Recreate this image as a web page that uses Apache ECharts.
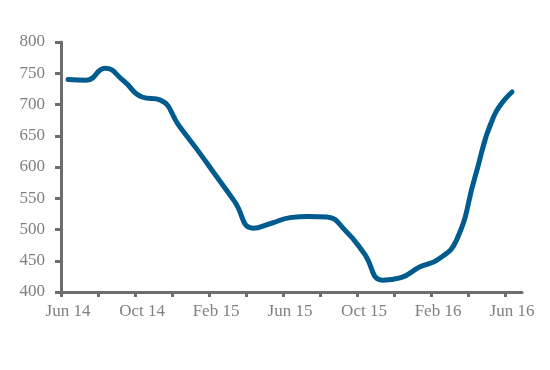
<!DOCTYPE html>
<html>
<head>
<meta charset="utf-8">
<script src="https://cdn.jsdelivr.net/npm/echarts@6/dist/echarts.min.js"></script>
<style>html,body{margin:0;padding:0;background:#fff;}#c{width:550px;height:370px;}</style>
</head>
<body>
<div id="c"></div>
<script>
var months = ["Jun 14","Jul 14","Aug 14","Sep 14","Oct 14","Nov 14","Dec 14","Jan 15","Feb 15","Mar 15","Apr 15","May 15","Jun 15","Jul 15","Aug 15","Sep 15","Oct 15","Nov 15","Dec 15","Jan 16","Feb 16","Mar 16","Apr 16","May 16","Jun 16"];
var values = [740,739,758,738,712,707,666,627,586,545,502,510,519,521,520,498,462,419,423,440,452,483,584,680,720];
var tickLabels = ["Jun 14","Oct 14","Feb 15","Jun 15","Oct 15","Feb 16","Jun 16"];
var yTicks = [400,450,500,550,600,650,700,750,800];

var data = values.map(function(v,i){return [i,v];});
var labelPos = tickLabels.map(function(l){return months.indexOf(l);});
var tickPos = [];
for (var j=0;j<13;j++) tickPos.push(-0.38 + 2*j);

var axisGrey = '#6d6d6d';
var textGrey = '#808080';
var chart = echarts.init(document.getElementById('c'));
chart.setOption({
  animation:false,
  grid:{left:61,right:28,top:42,bottom:78,containLabel:false},
  xAxis:{
    type:'value', min:-0.38, max:24.54,
    axisLine:{show:true,onZero:false,lineStyle:{color:axisGrey,width:3}},
    axisTick:{show:true,customValues:tickPos,length:5,lineStyle:{color:axisGrey,width:3}},
    axisLabel:{customValues:labelPos,margin:11,color:textGrey,fontFamily:'Liberation Serif',fontSize:17,
      formatter:function(v){return months[Math.round(v)];}},
    splitLine:{show:false}
  },
  yAxis:{
    type:'value', min:yTicks[0], max:yTicks[yTicks.length-1], interval:50,
    axisLine:{show:true,onZero:false,lineStyle:{color:axisGrey,width:3}},
    axisTick:{show:true,length:6,lineStyle:{color:axisGrey,width:3}},
    axisLabel:{margin:16,color:textGrey,fontFamily:'Liberation Serif',fontSize:17},
    splitLine:{show:false}
  },
  series:[{
    type:'line', data:data, smooth:0.5, symbol:'none',
    lineStyle:{color:'#005b8f',width:5,cap:'round',join:'round'}
  }]
});
</script>
</body>
</html>
